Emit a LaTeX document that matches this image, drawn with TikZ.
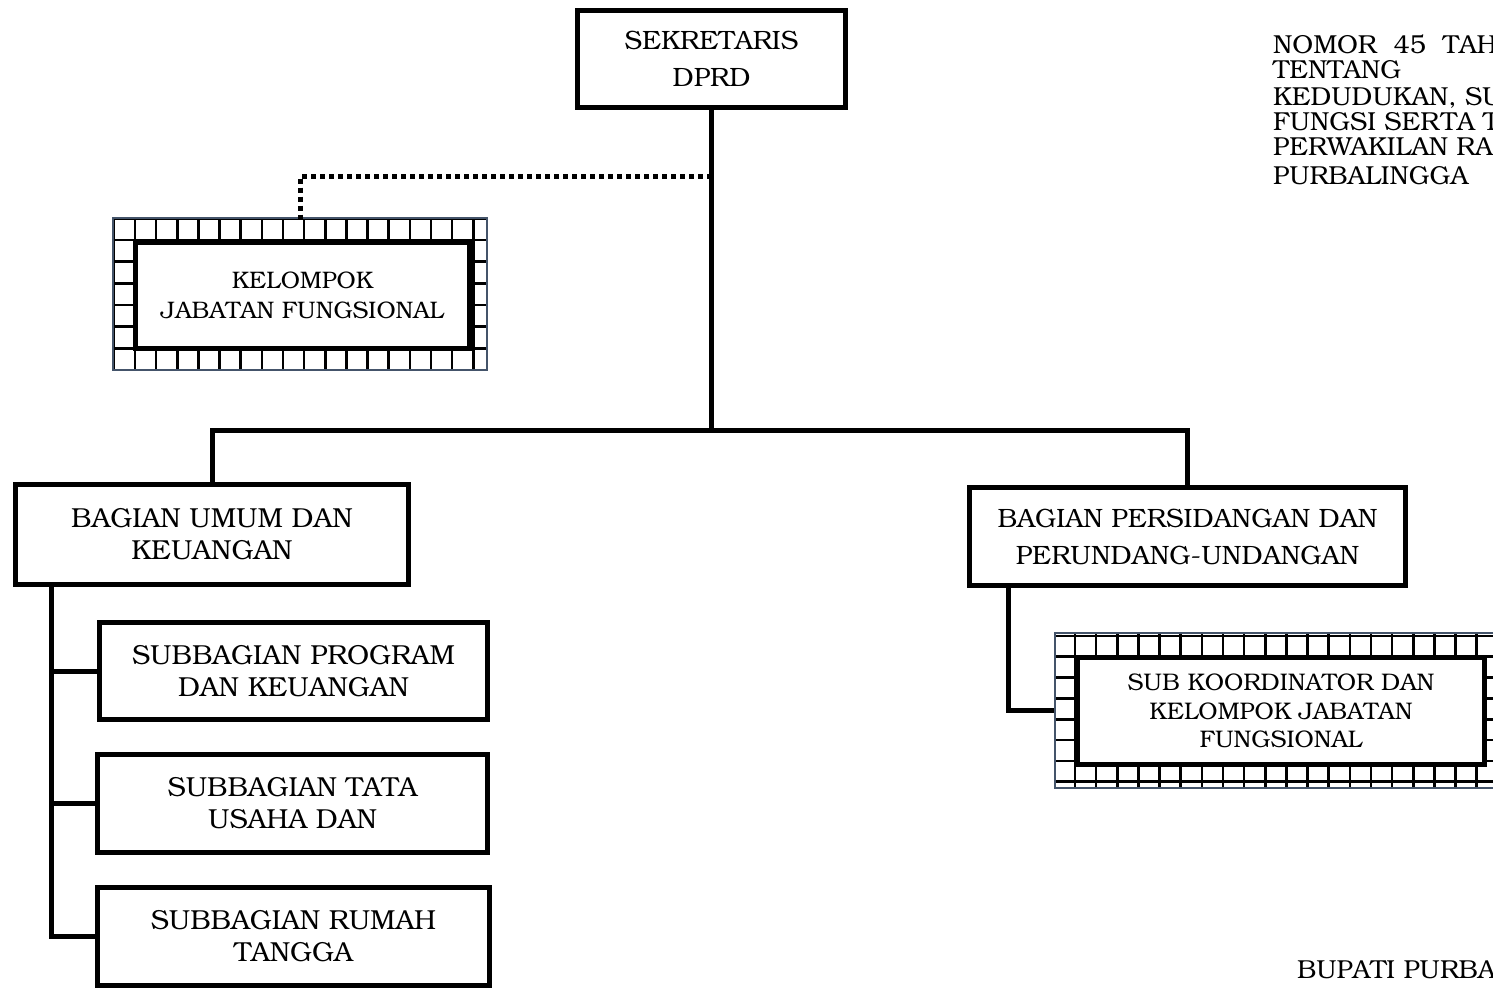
\documentclass[tikz,border=0pt]{standalone}
\usepackage[T1]{fontenc}
\usepackage{bookman}
\usetikzlibrary{calc}
\definecolor{hatchblue}{HTML}{44546A}
\tikzset{
  conn/.style={line width=5pt},
  dotconn/.style={line width=5pt, dash pattern=on 5pt off 4pt},
  orgbox/.style={draw, line width=5pt, align=center, inner sep=0pt, fill=white},
  subbox/.style={draw, line width=4.5pt, align=center, inner sep=0pt, fill=white},
  gridline/.style={line width=2.6pt},
  hatchouter/.style={draw=hatchblue, line width=2pt, inner sep=0pt},
  innerbox/.style={draw, line width=5pt, fill=white, align=center, inner sep=0pt},
  note/.style={anchor=base west, inner sep=0pt, font=\fontsize{26}{30}\selectfont},
  bigfont/.style={font=\fontsize{26.5}{37}\selectfont},
  midfont/.style={font=\fontsize{27.5}{32}\selectfont},
}
\begin{document}
\begin{tikzpicture}[x=1pt,y=-1pt]
\useasboundingbox (0,0) rectangle (1493,988);
\clip (0,0) rectangle (1493,988);

% top node
\node[orgbox, bigfont, minimum width=268, minimum height=97] (sek) at (711.5,59) {SEKRETARIS\\DPRD};

% hatched box: kelompok jabatan fungsional
\begin{scope}
  \clip (113,218) rectangle (487,370);
  \foreach \i in {-1,...,17} \draw[gridline] ({135+21.14*\i},218) -- ++(0,152);
  \foreach \j in {-1,...,6} \draw[gridline] (113,{240+21.67*\j}) -- ++(374,0);
\end{scope}
\node[hatchouter, minimum width=374, minimum height=152] (kelo) at (300,294) {};
\node[innerbox, minimum width=334, minimum height=106, font=\fontsize{23.9}{30}\selectfont] (kel) at (302.5,295.5) {KELOMPOK\\JABATAN FUNGSIONAL};

% bagian nodes
\node[orgbox, midfont, minimum width=393, minimum height=100] (bu) at (212,534.5) {BAGIAN UMUM DAN\\KEUANGAN};
\node[orgbox, bigfont, minimum width=436, minimum height=98] (bp) at (1187.5,536.5) {BAGIAN PERSIDANGAN DAN\\PERUNDANG-UNDANGAN};

% subbagian
\node[subbox, midfont, minimum width=388, minimum height=97] (s1) at (293.5,671) {SUBBAGIAN PROGRAM\\DAN KEUANGAN};
\node[subbox, midfont, minimum width=390, minimum height=98] (s2) at (292.5,803.5) {SUBBAGIAN TATA\\USAHA DAN};
\node[subbox, midfont, minimum width=392, minimum height=98] (s3) at (293.5,936.5) {SUBBAGIAN RUMAH\\TANGGA};

% hatched box: sub koordinator
\begin{scope}
  \clip (1055,633) rectangle (1493,788);
  \foreach \i in {-1,...,20} \draw[gridline] ({1075+21.14*\i},633) -- ++(0,155);
  \foreach \j in {-1,...,6} \draw[gridline] (1055,{656.7+20.83*\j}) -- ++(440,0);
\end{scope}
\node[hatchouter, minimum width=485, minimum height=155] (sko) at (1297.5,710.5) {};
\node[innerbox, minimum width=407, minimum height=107, font=\fontsize{24}{28.5}\selectfont] (sk) at (1281,711) {SUB KOORDINATOR DAN\\KELOMPOK JABATAN\\FUNGSIONAL};

% connectors
\coordinate (jn) at (711.5,430);
\coordinate (dj) at (711.5,176);
\draw[conn] (sek.south) -- (jn);
\draw[conn] (bu.north) |- (jn) -| (bp.north);
\draw[dotconn] (dj) -| ([yshift=-5]kelo.north);

\coordinate (bl) at ([xshift=38]bu.south west);
\draw[conn] (bl) |- (s3.west);
\draw[conn] (bl |- s1.west) -- (s1.west);
\draw[conn] (bl |- s2.west) -- (s2.west);

\coordinate (br) at ([xshift=41]bp.south west);
\draw[conn] (br) |- (sko.west);

% side texts (cut at the right edge, as printed)
\node[note] (t1) at (1273,53.5) {NOMOR\hspace{17pt}45\hspace{17pt}TAH};
\node[note] (t2) at (1273,78.5) {TENTANG};
\node[note] (t3) at (1273,105.5) {KEDUDUKAN, SU};
\node[note] (t4) at (1273,130.5) {FUNGSI SERTA T};
\node[note] (t5) at (1273,155.5) {PERWAKILAN RA};
\node[note] (t6) at (1273,184.5) {PURBALINGGA};
\node[note] (bup) at (1297,978) {BUPATI PURBA};
\end{tikzpicture}
\end{document}
